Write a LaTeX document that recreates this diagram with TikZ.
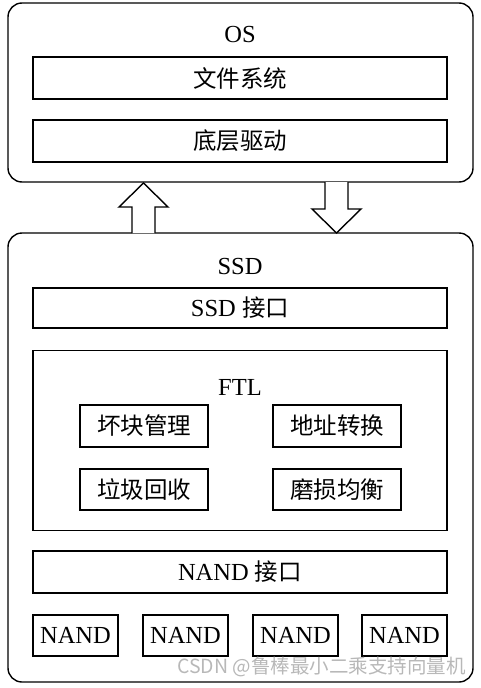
\documentclass[tikz,border=0pt]{standalone}
\usepackage{fontspec}
\setmainfont{Liberation Serif}
\newfontfamily\cjk{Noto Sans CJK SC}
\begin{document}
\begin{tikzpicture}[
  x=1pt, y=-1pt,
  % GLOBAL CFG
  font=\fontsize{24.5}{28}\selectfont,
  % Styles
  outer/.style={% For the OS and SSD boxes
      rectangle,
      rounded corners=14pt,
      draw,
      line width=1.4pt,
      minimum width=465pt,
      },
  layer/.style={% For the wide layer boxes
      rectangle,
      draw,
      line width=1.9pt,
      minimum width=414pt,
      minimum height=42pt,
      inner sep=0pt,
      },
  func/.style={% For FTL functions
      rectangle,
      draw,
      line width=1.9pt,
      minimum width=128pt,
      minimum height=42pt,
      inner sep=0pt,
      },
  chip/.style={% For NAND chips
      rectangle,
      draw,
      line width=1.9pt,
      minimum width=85pt,
      minimum height=41pt,
      inner sep=0pt,
      },
  title/.style={% Box titles
      inner sep=0pt,
      },
  bigarrow/.style={% Hollow block arrows
      draw,
      line width=1.4pt,
      fill=white,
      },
  ]

  \useasboundingbox (0,0) rectangle (481,688);

  % OS side
  \node [outer, minimum height=179pt] (os) at (240.5,92.5) {};
  \node [title] (ostitle) at (240,35) {OS};
  \node [layer] (fs) at (240,78) {\cjk\fontsize{23.5}{26}\selectfont 文件系统};
  \node [layer] (drv) at (240,141) {\cjk\fontsize{23.5}{26}\selectfont 底层驱动};

  % SSD side
  \node [outer, minimum height=449pt] (ssd) at (240.5,457.5) {};
  \node [title] (ssdtitle) at (240,267) {SSD};
  \node [layer, minimum height=40pt] (sif) at (240,308) {SSD {\cjk\fontsize{23.5}{26}\selectfont 接口}};

  \node [layer, minimum height=180pt] (ftl) at (240,440.5) {};
  \node [title] (ftltitle) at (240,387) {FTL};
  \node [func] (bad) at (144,426) {\cjk\fontsize{23.5}{26}\selectfont 坏块管理};
  \node [func] (addr) at (337,426) {\cjk\fontsize{23.5}{26}\selectfont 地址转换};
  \node [func, minimum height=41pt] (gc) at (144,489.5) {\cjk\fontsize{23.5}{26}\selectfont 垃圾回收};
  \node [func, minimum height=41pt] (wear) at (337,489.5) {\cjk\fontsize{23.5}{26}\selectfont 磨损均衡};

  \node [layer] (nif) at (240,572) {NAND {\cjk\fontsize{23.5}{26}\selectfont 接口}};

  \node [chip] (nand1) at (75.5,635.5) {NAND};
  \node [chip] (nand2) at (185.5,635.5) {NAND};
  \node [chip] (nand3) at (295.5,635.5) {NAND};
  \node [chip] (nand4) at (404.5,635.5) {NAND};

  % Block arrows between OS and SSD
  \draw [bigarrow] (132,233) -- (132,207) -- (119,207) -- (143.5,183)
    -- (168,207) -- (155,207) -- (155,233);
  \draw [bigarrow] (325,182) -- (325,209) -- (312,209) -- (336.5,233)
    -- (361,209) -- (348,209) -- (348,182);

  % watermark
  \node [anchor=east, inner sep=0pt, text=black!28, font=\cjk\fontsize{19.5}{22}\selectfont] (mark) at (466,667) {CSDN @鲁棒最小二乘支持向量机};

\end{tikzpicture}
\end{document}
